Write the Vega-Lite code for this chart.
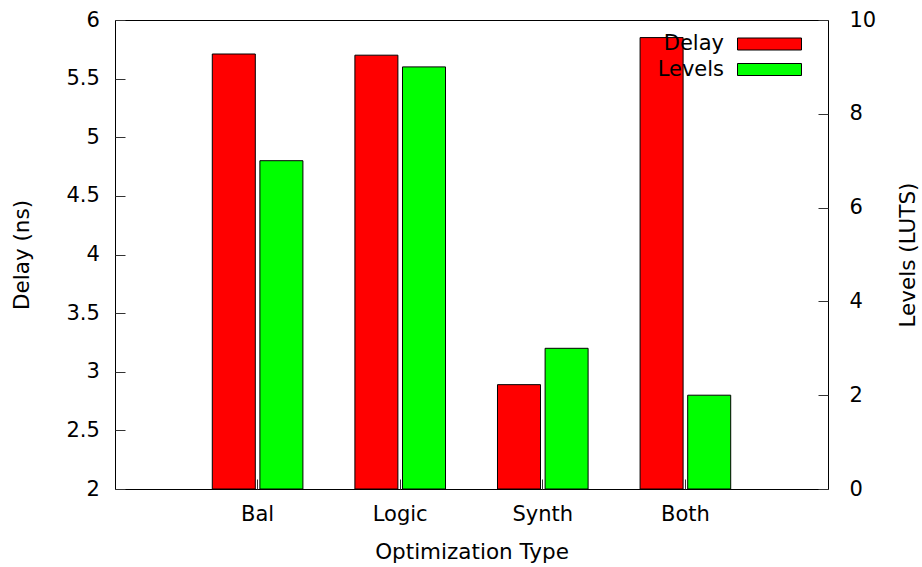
{
  "$schema": "https://vega.github.io/schema/vega-lite/v6.json",
  "width": 713,
  "height": 469,
  "autosize": {"type": "none"},
  "padding": {"left": 115, "top": 20, "right": 94, "bottom": 78},
  "background": "white",
  "config": {
    "font": "DejaVu Sans",
    "view": {"stroke": "black", "strokeWidth": 1},
    "axis": {
      "grid": false,
      "domain": false,
      "labelFont": "DejaVu Sans",
      "labelFontSize": 21,
      "labelColor": "black",
      "labelFlush": false,
      "labelOverlap": false,
      "titleFont": "DejaVu Sans",
      "titleFontSize": 21.5,
      "titleFontWeight": "normal",
      "titleColor": "black",
      "tickColor": "#333333",
      "tickWidth": 1,
      "tickSize": -10
    }
  },
  "data": {
    "values": [
      {"type": "Bal", "Delay": 5.71, "Levels": 7},
      {"type": "Logic", "Delay": 5.70, "Levels": 9},
      {"type": "Synth", "Delay": 2.89, "Levels": 3},
      {"type": "Both", "Delay": 5.85, "Levels": 2}
    ]
  },
  "transform": [{"fold": ["Delay", "Levels"], "as": ["series", "value"]}],
  "encoding": {
    "x": {
      "field": "type",
      "type": "nominal",
      "sort": null,
      "title": "Optimization Type",
      "scale": {"paddingInner": 0, "paddingOuter": 0.5},
      "axis": {
        "labelAngle": 0,
        "bandPosition": 0.5,
        "labelBaseline": "alphabetic",
        "labelPadding": 41.7,
        "titleX": 356.5,
        "titleY": 69,
        "titleBaseline": "alphabetic",
        "titleAlign": "center"
      }
    },
    "xOffset": {
      "field": "series",
      "type": "nominal",
      "scale": {"domain": ["Delay", "Levels"], "paddingInner": 0.0966, "paddingOuter": 0.546}
    },
    "color": {
      "field": "series",
      "type": "nominal",
      "scale": {"domain": ["Delay", "Levels"], "range": ["#ff0000", "#00ff00"]},
      "legend": {
        "title": null,
        "orient": "none",
        "legendX": 644,
        "legendY": 13.5,
        "direction": "vertical",
        "symbolType": "M-5.333,-1H5.333V1H-5.333Z",
        "symbolSize": 144,
        "symbolStrokeColor": "black",
        "symbolStrokeWidth": 1,
        "symbolOpacity": 1,
        "labelAlign": "right",
        "labelOffset": -56,
        "labelFont": "DejaVu Sans",
        "labelFontSize": 21,
        "labelColor": "black",
        "labelLimit": 0,
        "rowPadding": 3.5
      }
    }
  },
  "layer": [
    {
      "transform": [{"filter": "datum.series === 'Delay'"}],
      "mark": {"type": "bar", "stroke": "black", "strokeWidth": 1, "opacity": 1},
      "encoding": {
        "y": {
          "field": "value",
          "type": "quantitative",
          "title": "Delay (ns)",
          "scale": {"domain": [2, 6], "zero": false, "nice": false},
          "axis": {
            "values": [2, 2.5, 3, 3.5, 4, 4.5, 5, 5.5, 6],
            "format": "~g",
            "labelPadding": 25.7,
            "titleAngle": 270,
            "titleX": -87,
            "titleY": 234.5,
            "titleBaseline": "alphabetic",
            "titleAlign": "center"
          }
        },
        "y2": {"datum": 2}
      }
    },
    {
      "transform": [{"filter": "datum.series === 'Levels'"}],
      "mark": {"type": "bar", "stroke": "black", "strokeWidth": 1, "opacity": 1},
      "encoding": {
        "y": {
          "field": "value",
          "type": "quantitative",
          "title": "Levels (LUTS)",
          "scale": {"domain": [0, 10], "nice": false},
          "axis": {
            "orient": "right",
            "values": [0, 2, 4, 6, 8, 10],
            "format": "d",
            "labelPadding": 31,
            "titleAngle": 270,
            "titleX": 86,
            "titleY": 234.5,
            "titleBaseline": "alphabetic",
            "titleAlign": "center"
          }
        }
      }
    }
  ],
  "resolve": {"scale": {"y": "independent"}}
}
